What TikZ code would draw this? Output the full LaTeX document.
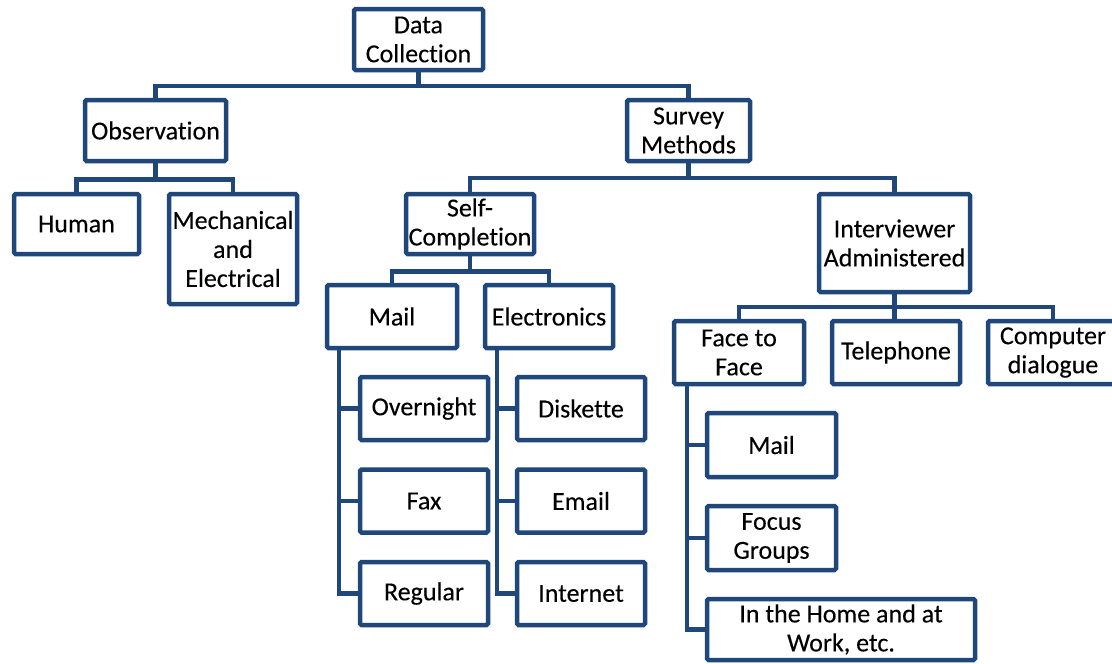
\documentclass[tikz,border=0pt]{standalone}
\usepackage{fontspec}
\setmainfont[Ligatures=NoCommon, FakeBold=0.2]{Carlito}
\usetikzlibrary{backgrounds}
\definecolor{navy}{RGB}{31,71,122}
\tikzset{
  box/.style={draw=navy, line width=4.5pt, fill=white, rounded corners=1.5pt,
    align=center, inner sep=0pt, text=black,
    font=\fontsize{26}{29}\selectfont},
  link/.style={draw=navy, line width=4.5pt, line join=miter}
}
\begin{document}
\begin{tikzpicture}[x=1pt, y=-1pt]
\useasboundingbox (0,0) rectangle (1112,664);

% boxes
\node[box, minimum width=129pt, minimum height=61pt] (dc) at (418.5,39.5) {Data\\Collection};
\node[box, minimum width=141pt, minimum height=61pt] (obs) at (155.5,130.5) {Observation};
\node[box, minimum width=123pt, minimum height=61pt] (sm) at (688.5,130.5) {Survey\\Methods};
\node[box, minimum width=125pt, minimum height=60pt] (hum) at (76.5,224) {Human};
\node[box, minimum width=128pt, minimum height=110pt] (mech) at (233,249) {Mechanical\\and\\Electrical};
\node[box, minimum width=128pt, minimum height=60pt] (self) at (470,224) {Self-\\Completion};
\node[box, minimum width=151pt, minimum height=98pt] (int) at (894.5,243) {Interviewer\\Administered};
\node[box, minimum width=130pt, minimum height=63pt] (mail) at (392,316.5) {Mail};
\node[box, minimum width=128pt, minimum height=63pt] (elec) at (549,316.5) {Electronics};
\node[box, minimum width=128pt, minimum height=63pt] (over) at (424,408.5) {Overnight};
\node[box, minimum width=128pt, minimum height=63pt] (fax) at (424,501) {Fax};
\node[box, minimum width=128pt, minimum height=63pt] (reg) at (424,593.5) {Regular};
\node[box, minimum width=128pt, minimum height=63pt] (disk) at (581,408.5) {Diskette};
\node[box, minimum width=128pt, minimum height=63pt] (email) at (581,501) {Email};
\node[box, minimum width=128pt, minimum height=63pt] (inet) at (581,593.5) {Internet};
\node[box, minimum width=130pt, minimum height=63pt] (f2f) at (739,352.5) {Face to\\Face};
\node[box, minimum width=128pt, minimum height=63pt] (tel) at (896,352.5) {Telephone};
\node[box, minimum width=130pt, minimum height=63pt] (comp) at (1053,352.5) {Computer\\dialogue};
\node[box, minimum width=129pt, minimum height=64pt] (mail2) at (771.5,445) {Mail};
\node[box, minimum width=129pt, minimum height=64pt] (focus) at (771.5,538) {Focus\\Groups};
\node[box, minimum width=268pt, minimum height=61pt] (home) at (841,629.5) {In the Home and at\\Work, etc.};

% bar levels and side trunks
\coordinate (b0) at (0,86);
\coordinate (b1) at (0,179.5);
\coordinate (b2) at (0,178);
\coordinate (b3) at (0,271.5);
\coordinate (b4) at (0,307);
\coordinate (t1) at (339,0);
\coordinate (t2) at (497,0);
\coordinate (t3) at (687,0);

% connectors, drawn underneath the boxes
\begin{scope}[on background layer]
  \draw[link] (dc.south) -- (dc.south |- b0);
  \draw[link] (obs.north) |- (b0 -| dc.south) -| (sm.north);

  \draw[link] (obs.south) -- (obs.south |- b1);
  \draw[link] (hum.north) |- (b1 -| obs.south) -| (mech.north);

  \draw[link] (sm.south) -- (sm.south |- b2);
  \draw[link] (self.north) |- (b2 -| sm.south) -| (int.north);

  \draw[link] (self.south) -- (self.south |- b3);
  \draw[link] (mail.north) |- (b3 -| self.south) -| (elec.north);

  \draw[link] (int.south) -- (int.south |- tel.north);
  \draw[link] (f2f.north) |- (b4 -| int.south) -| (comp.north);

  \draw[link] (t1 |- mail.south) |- (reg.west);
  \draw[link] (t1 |- over.west) -- (over.west);
  \draw[link] (t1 |- fax.west) -- (fax.west);

  \draw[link] (t2 |- elec.south) |- (inet.west);
  \draw[link] (t2 |- disk.west) -- (disk.west);
  \draw[link] (t2 |- email.west) -- (email.west);

  \draw[link] (t3 |- f2f.south) |- (home.west);
  \draw[link] (t3 |- mail2.west) -- (mail2.west);
  \draw[link] (t3 |- focus.west) -- (focus.west);
\end{scope}
\end{tikzpicture}
\end{document}
